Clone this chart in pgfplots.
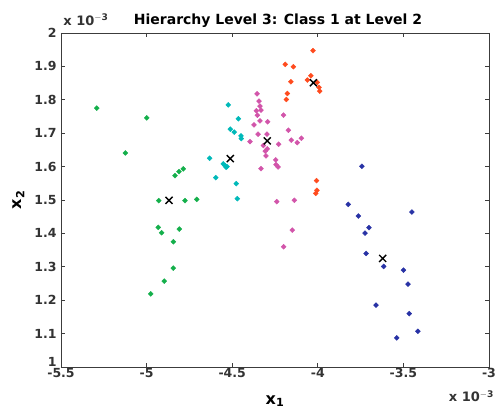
\documentclass[border=0pt]{standalone}
\usepackage{pgfplots}
\pgfplotsset{compat=1.18}
\usepackage{fontspec}
\setmainfont{DejaVu Sans}
\definecolor{cgreen}{RGB}{20,175,75}
\definecolor{ccyan}{RGB}{0,185,185}
\definecolor{cmag}{RGB}{210,85,170}
\definecolor{cred}{RGB}{255,75,30}
\definecolor{cblue}{RGB}{40,50,165}
\definecolor{axgray}{RGB}{60,60,60}
\begin{document}
\begin{tikzpicture}
\begin{axis}[
  at={(0,0)}, anchor=south west,
  scale only axis, width=428pt, height=334pt,
  xmin=-5.5, xmax=-3, ymin=1, ymax=2,
  xtick={-5.5,-5,-4.5,-4,-3.5,-3},
  xticklabels={-5.5,-5,-4.5,-4,-3.5,-3},
  ytick={1,1.1,1.2,1.3,1.4,1.5,1.6,1.7,1.8,1.9,2},
  yticklabels={\smash{1},1.1,1.2,1.3,1.4,1.5,1.6,1.7,1.8,1.9,2},
  tick align=inside, major tick length=4pt,
  axis line style={axgray, line width=0.8pt},
  every tick/.style={axgray, line width=0.8pt},
  tick label style={font=\fontsize{12.5}{13}\selectfont\bfseries, text=black!80},
  xticklabel style={yshift=2pt},
  yticklabel style={xshift=-1pt},
  title={\fontsize{14}{15}\selectfont\bfseries Hierarchy Level 3: Class 1 at Level 2},
  title style={yshift=-4pt, xshift=3pt},
  clip=false,
  dot/.style={only marks, mark=square*, mark size=1.75pt, mark options={rotate=45}},
]
\addplot[dot, color=cgreen] coordinates {
(-5.291,1.775) (-4.999,1.746) (-5.124,1.641) (-4.834,1.573) (-4.811,1.585)
(-4.786,1.593) (-4.929,1.498) (-4.776,1.498) (-4.707,1.502) (-4.932,1.418)
(-4.912,1.402) (-4.809,1.413) (-4.844,1.375) (-4.844,1.296) (-4.897,1.257)
(-4.976,1.219)
};
\addplot[dot, color=ccyan] coordinates {
(-4.523,1.785) (-4.464,1.743) (-4.511,1.712) (-4.488,1.703) (-4.449,1.692)
(-4.447,1.684) (-4.632,1.625) (-4.552,1.608) (-4.542,1.603) (-4.530,1.600)
(-4.536,1.598) (-4.596,1.567) (-4.476,1.549) (-4.470,1.504)
};
\addplot[dot, color=cmag] coordinates {
(-4.355,1.818) (-4.343,1.796) (-4.338,1.781) (-4.359,1.767) (-4.332,1.769)
(-4.353,1.754) (-4.200,1.754) (-4.338,1.737) (-4.293,1.734) (-4.373,1.725)
(-4.172,1.709) (-4.349,1.697) (-4.297,1.697) (-4.396,1.675) (-4.155,1.679)
(-4.096,1.685) (-4.120,1.672) (-4.229,1.667) (-4.318,1.663) (-4.295,1.653)
(-4.307,1.646) (-4.303,1.632) (-4.246,1.620) (-4.244,1.606) (-4.232,1.599)
(-4.332,1.594) (-4.240,1.495) (-4.137,1.499) (-4.149,1.410) (-4.200,1.360)
};
\addplot[dot, color=cred] coordinates {
(-4.028,1.947) (-4.190,1.906) (-4.143,1.899) (-4.040,1.872) (-4.061,1.859)
(-4.157,1.854) (-4.003,1.852) (-3.993,1.837) (-3.989,1.826) (-4.178,1.819)
(-4.184,1.801) (-4.007,1.558) (-4.005,1.529) (-4.012,1.520)
};
\addplot[dot, color=cblue] coordinates {
(-3.742,1.601) (-3.822,1.487) (-3.450,1.464) (-3.763,1.452) (-3.701,1.417)
(-3.724,1.401) (-3.718,1.340) (-3.615,1.301) (-3.500,1.290) (-3.473,1.248)
(-3.660,1.185) (-3.466,1.160) (-3.415,1.107) (-3.539,1.087)
};
\addplot[only marks, mark=x, mark size=5pt, line width=1.4pt, color=black] coordinates {
(-4.869,1.499) (-4.511,1.624) (-4.295,1.677) (-4.026,1.851) (-3.621,1.325)
};
\node[anchor=south west, inner sep=0pt, font=\fontsize{13}{14}\selectfont\bfseries, text=black!80] at (axis description cs:0.005,1.022) {x 10$^{\mathbf{-3}}$};
\node[anchor=north east, inner sep=0pt, font=\fontsize{13}{14}\selectfont\bfseries, text=black!80] at (axis description cs:1.012,-0.07) {x 10$^{\mathbf{-3}}$};
\node[anchor=north, inner sep=0pt, font=\fontsize{16}{17}\selectfont\bfseries] at (axis description cs:0.5,-0.085) {x$_{\mathbf{1}}$};
\node[rotate=90, anchor=south, inner sep=0pt, font=\fontsize{16}{17}\selectfont\bfseries] at (axis description cs:-0.085,0.5) {x$_{\mathbf{2}}$};
\end{axis}
\pgfresetboundingbox
\path (-61pt,-47pt) rectangle (434pt,367pt);
\end{tikzpicture}
\end{document}
